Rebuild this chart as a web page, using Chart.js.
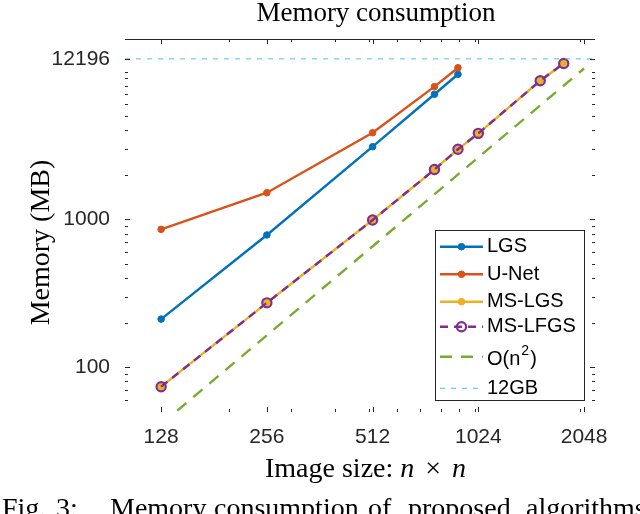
<!DOCTYPE html>
<html>
<head>
<meta charset="utf-8">
<script src="https://cdn.jsdelivr.net/npm/chart.js@4"></script>
<style>
  html, body { margin: 0; padding: 0; background: #fff; }
  canvas { display: block; }
</style>
</head>
<body>
<canvas id="memChart" width="640" height="514"></canvas>
<script>
// image size n (x axis)
const nSmall = [128, 256, 512, 768, 896];
const nMS = [128, 256, 512, 768, 896, 1024, 1536, 1792];
const nRef = [128, 2048];
const nLimit = [101, 2200];

// memory in MB
const lgsMem = [211, 783, 3101, 7020, 9590];
const unetMem = [855, 1514, 3857, 7906, 10620];
const msLgsMem = [73.6, 272, 989, 2171, 2980, 3818, 8670, 11350];
const msLfgsMem = [73.6, 272, 989, 2171, 2980, 3818, 8670, 11350];
const orderMem = [41, 10500];
const limitMem = [12196, 12196];

// tick values
const xTickLabels = [128, 256, 512, 1024, 2048];
const xMinorTicks = [200, 300, 400, 500, 600, 700, 800, 900, 1000, 2000];
const yTickLabels = [100, 1000, 12196];
const yMinorTicks = [60, 70, 80, 90, 200, 300, 400, 500, 600, 700, 800, 900,
                     2000, 3000, 4000, 5000, 6000, 7000, 8000, 9000, 10000];

const SANS = '"Liberation Sans", Arial, Helvetica, sans-serif';
const SERIF = '"Liberation Serif", "Times New Roman", serif';
const AXIS_COLOR = '#262626';

const pts = (xs, ys) => xs.map((x, i) => ({ x: x, y: ys[i] }));

// tick marks pointing inward, like matlab
const axisTicks = {
    id: 'axisTicks',
    afterDatasetsDraw(chart) {
        const { ctx, chartArea: a, scales: { x, y } } = chart;
        ctx.save();
        ctx.strokeStyle = AXIS_COLOR;
        ctx.lineWidth = 1;
        ctx.beginPath();
        const xt = xTickLabels.map(v => [v, 5]).concat(xMinorTicks.map(v => [v, 3]));
        xt.forEach(([v, len]) => {
            const px = Math.round(x.getPixelForValue(v)) + 0.5;
            if (px < a.left || px > a.right) return;
            ctx.moveTo(px, a.top); ctx.lineTo(px, a.top + len);
            ctx.moveTo(px, a.bottom); ctx.lineTo(px, a.bottom - len);
        });
        const yt = yTickLabels.map(v => [v, 5]).concat(yMinorTicks.map(v => [v, 3]));
        yt.forEach(([v, len]) => {
            const py = Math.round(y.getPixelForValue(v)) + 0.5;
            if (py < a.top || py > a.bottom) return;
            ctx.moveTo(a.left, py); ctx.lineTo(a.left + len, py);
            ctx.moveTo(a.right, py); ctx.lineTo(a.right - len, py);
        });
        ctx.stroke();
        // only the top box line shows in the figure
        ctx.beginPath();
        ctx.moveTo(a.left, a.top + 0.5);
        ctx.lineTo(a.right, a.top + 0.5);
        ctx.stroke();
        ctx.restore();
    }
};

// legend rows y positions
const legendRowY = [246.7, 274.3, 301.7, 326.7, 356.7, 388.3];

function drawMarker(ctx, ds, cx, cy) {
    const r = ds.pointRadius || 0;
    if (!r) return;
    ctx.setLineDash([]);
    ctx.beginPath();
    ctx.arc(cx, cy, r, 0, Math.PI * 2);
    ctx.fillStyle = ds.pointBackgroundColor || ds.backgroundColor;
    ctx.fill();
    ctx.lineWidth = ds.pointBorderWidth;
    ctx.strokeStyle = ds.borderColor;
    ctx.stroke();
}

const figureText = {
    id: 'figureText',
    afterDraw(chart) {
        const ctx = chart.ctx;
        ctx.save();
        ctx.fillStyle = '#000';

        // title
        ctx.font = '27px ' + SERIF;
        ctx.textAlign = 'center';
        ctx.textBaseline = 'alphabetic';
        ctx.fillText('Memory consumption', 376, 21);

        // y label
        ctx.save();
        ctx.translate(41.5, 242.5);
        ctx.rotate(-Math.PI / 2);
        ctx.font = '28px ' + SERIF;
        ctx.textAlign = 'center';
        ctx.textBaseline = 'middle';
        ctx.fillText('Memory (MB)', 0, 0);
        ctx.restore();

        // x label with italic n
        ctx.textAlign = 'left';
        let cx = 265;
        const by = 476.5;
        const put = (txt, font) => {
            ctx.font = font;
            ctx.fillText(txt, cx, by);
            cx += ctx.measureText(txt).width;
        };
        put('Image size: ', '28px ' + SERIF);
        put('n', 'italic 28px ' + SERIF);
        cx += 11;
        put('\u00d7', '28px ' + SERIF);
        cx += 11;
        put('n', 'italic 28px ' + SERIF);

        // caption (cut by the bottom edge)
        ctx.font = '28px ' + SERIF;
        const words = ['Fig.', '3:', 'Memory', 'consumption', 'of', 'proposed', 'algorithms'];
        const wx = [2, 56, 110, 214, 368, 408, 526];
        words.forEach((w, i) => ctx.fillText(w, wx[i], 517));

        // legend
        ctx.fillStyle = '#fff';
        ctx.fillRect(435, 230, 149, 170);
        ctx.strokeStyle = AXIS_COLOR;
        ctx.lineWidth = 1;
        ctx.strokeRect(435.5, 230.5, 149, 170);
        chart.data.datasets.forEach((ds, i) => {
            const ry = legendRowY[i];
            ctx.setLineDash(ds.borderDash || []);
            ctx.strokeStyle = ds.borderColor;
            ctx.lineWidth = ds.borderWidth;
            ctx.beginPath();
            ctx.moveTo(440, ry);
            ctx.lineTo(483, ry);
            ctx.stroke();
            drawMarker(ctx, ds, 461.5, ry);
            ctx.fillStyle = '#000';
            ctx.font = '20px ' + SANS;
            ctx.textAlign = 'left';
            ctx.textBaseline = 'middle';
            if (ds.label === 'O(n2)') {
                let tx = 487;
                ctx.fillText('O(n', tx, ry + 3);
                tx += ctx.measureText('O(n').width + 1;
                ctx.font = '14px ' + SANS;
                ctx.fillText('2', tx, ry - 6);
                tx += ctx.measureText('2').width + 1;
                ctx.font = '20px ' + SANS;
                ctx.fillText(')', tx, ry + 3);
            } else {
                ctx.fillText(ds.label, 487, ry);
            }
        });
        ctx.restore();
    }
};

const data = {
    datasets: [
        {
            label: 'LGS',
            data: pts(nSmall, lgsMem),
            borderColor: '#0072BD',
            backgroundColor: '#0072BD',
            borderWidth: 2.4,
            pointRadius: 3.3,
            pointBorderWidth: 1,
            order: 6
        },
        {
            label: 'U-Net',
            data: pts(nSmall, unetMem),
            borderColor: '#D95319',
            backgroundColor: '#D95319',
            borderWidth: 2.4,
            pointRadius: 3.3,
            pointBorderWidth: 1,
            order: 5
        },
        {
            label: 'MS-LGS',
            data: pts(nMS, msLgsMem),
            borderColor: '#EDB120',
            backgroundColor: '#EDB120',
            borderWidth: 2.4,
            pointRadius: 3.3,
            pointBorderWidth: 1,
            order: 4
        },
        {
            label: 'MS-LFGS',
            data: pts(nMS, msLfgsMem),
            borderColor: '#7E2F8E',
            backgroundColor: 'rgba(0,0,0,0)',
            pointBackgroundColor: 'rgba(0,0,0,0)',
            borderWidth: 2.4,
            borderDash: [8, 6],
            pointRadius: 4.6,
            pointBorderWidth: 2.2,
            order: 3
        },
        {
            label: 'O(n2)',
            data: pts(nRef, orderMem),
            borderColor: '#77AC30',
            backgroundColor: '#77AC30',
            borderWidth: 2.4,
            borderDash: [12, 9],
            pointRadius: 0,
            order: 2
        },
        {
            label: '12GB',
            data: pts(nLimit, limitMem),
            borderColor: '#4DBEEE',
            backgroundColor: '#4DBEEE',
            borderWidth: 1,
            borderDash: [5, 6],
            pointRadius: 0,
            order: 1
        }
    ]
};

const config = {
    type: 'line',
    data: data,
    options: {
        responsive: false,
        animation: false,
        events: [],
        layout: { padding: { top: 39, right: 45, bottom: 0, left: 0 } },
        elements: { line: { tension: 0 } },
        plugins: {
            legend: { display: false },
            tooltip: { enabled: false },
            title: { display: false }
        },
        scales: {
            x: {
                type: 'logarithmic',
                min: 101,
                max: 2200,
                afterBuildTicks: s => { s.ticks = xTickLabels.map(v => ({ value: v })); },
                afterFit: s => { s.height = 102; },
                ticks: {
                    callback: v => String(v),
                    autoSkip: false,
                    maxRotation: 0,
                    padding: 5,
                    color: AXIS_COLOR,
                    font: { family: SANS, size: 21 }
                },
                grid: { display: false },
                border: { display: false }
            },
            y: {
                type: 'logarithmic',
                min: 49.6,
                max: 16620,
                afterBuildTicks: s => { s.ticks = yTickLabels.map(v => ({ value: v })); },
                afterFit: s => { s.width = 125; },
                ticks: {
                    callback: v => String(v),
                    autoSkip: false,
                    padding: 7,
                    color: AXIS_COLOR,
                    font: { family: SANS, size: 21 }
                },
                grid: { display: false },
                border: { display: false }
            }
        }
    },
    plugins: [axisTicks, figureText]
};

const chart = new Chart(document.getElementById('memChart'), config);
</script>
</body>
</html>
